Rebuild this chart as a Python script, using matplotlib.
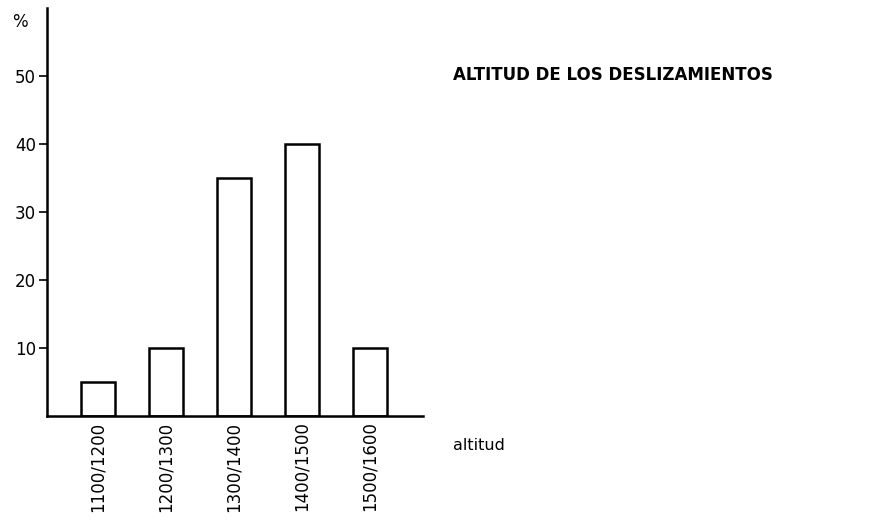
import matplotlib.pyplot as plt
import numpy as np

plt.rcParams['font.family'] = ['DejaVu Sans']

# altitude classes and share of landslides (%)
altitudes = ['1100/1200', '1200/1300', '1300/1400', '1400/1500', '1500/1600']
percent = [5, 10, 35, 40, 10]

fig = plt.figure(figsize=(8.82, 5.24), dpi=100)
ax = fig.add_axes([47 / 882, 1 - 416 / 524, (423 - 47) / 882, (416 - 8) / 524])

x = np.arange(len(altitudes))
ax.bar(x, percent, width=0.5, facecolor='white', edgecolor='black', linewidth=1.8)

ax.set_xlim(-0.75, 4.78)
ax.set_ylim(0, 60)
ax.set_yticks([10, 20, 30, 40, 50])
ax.set_xticks(x)
ax.set_xticklabels(altitudes, rotation=90, fontsize=12)
ax.tick_params(axis='x', length=0, pad=4)
ax.tick_params(axis='y', length=6, width=1.2, pad=2, labelsize=12)

ax.spines['top'].set_visible(False)
ax.spines['right'].set_visible(False)
ax.spines['left'].set_linewidth(1.8)
ax.spines['bottom'].set_linewidth(1.8)

fig.text(12 / 882, 1 - 22 / 524, '%', fontsize=12, va='center', ha='left')
fig.text(453 / 882, 1 - 75 / 524, 'ALTITUD DE LOS DESLIZAMIENTOS',
         fontsize=12, fontweight='bold', va='center', ha='left')
fig.text(453 / 882, 1 - 445 / 524, 'altitud', fontsize=11.5,
         va='center', ha='left')

plt.savefig('out.png', dpi=100)
